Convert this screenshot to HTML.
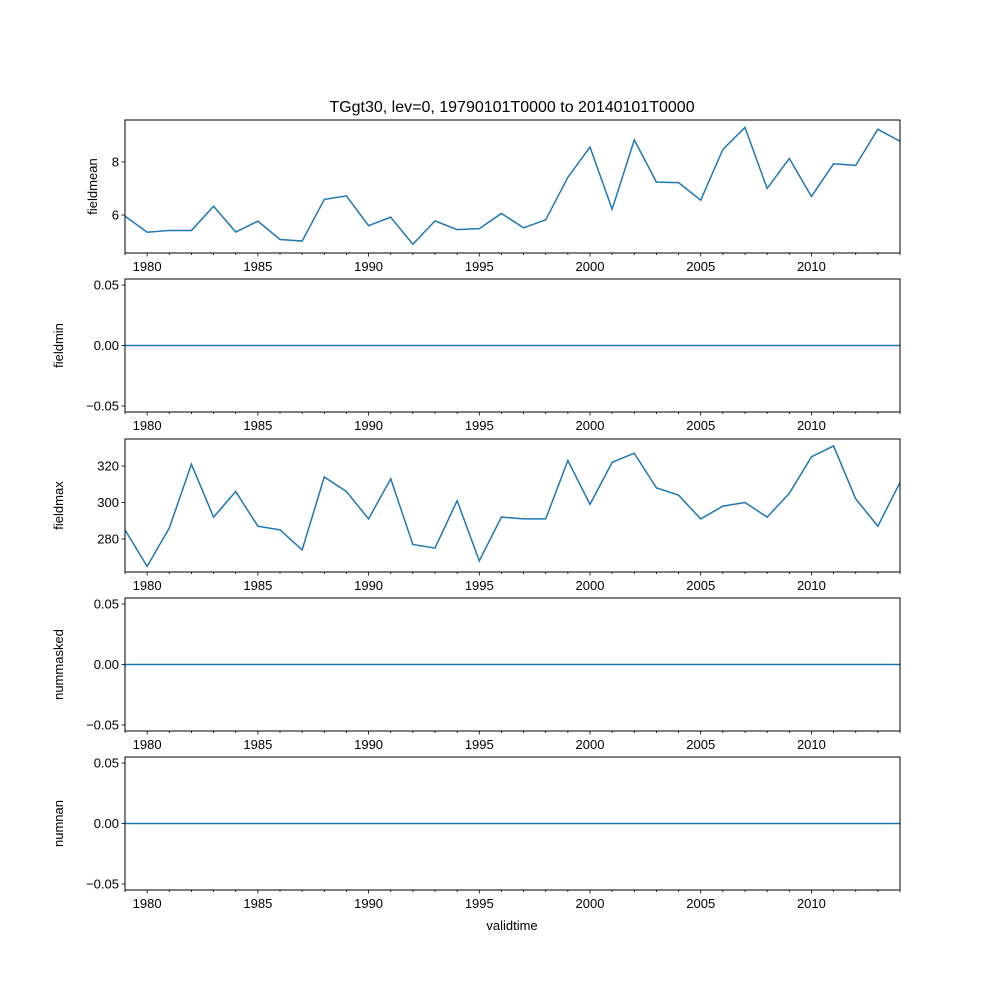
<!DOCTYPE html>
<html><head><meta charset="utf-8"><style>body{margin:0;background:#fff}svg{display:block}text{font-family:"Liberation Sans",sans-serif;font-size:13px;fill:#000}</style></head>
<body>
<svg id="chart" width="1000" height="1000"></svg>
<script>
const years=[];for(let y=1979;y<=2014;y++)years.push(y);
const fieldmean=[5.96,5.35,5.42,5.42,6.33,5.36,5.77,5.08,5.02,6.59,6.72,5.6,5.92,4.9,5.78,5.45,5.49,6.06,5.52,5.82,7.42,8.56,6.22,8.83,7.24,7.22,6.56,8.47,9.3,7.0,8.13,6.7,7.93,7.87,9.23,8.78];
const fieldmax=[285,265,286,321,292,306,287,285,274,314,306,291,313,277,275,301,268,292,291,291,323,299,322,327,308,304,291,298,300,292,305,325,331,302,287,311];
const zeros=years.map(()=>0);
const xTicks=[1980,1985,1990,1995,2000,2005,2010];
const panels=[
 {name:'fieldmean',vals:fieldmean,top:120,ymin:4.57,ymax:9.58,ticks:[6,8],lbl:[ '6','8']},
 {name:'fieldmin',vals:zeros,top:279,ymin:-0.055,ymax:0.055,ticks:[-0.05,0,0.05],lbl:['−0.05','0.00','0.05']},
 {name:'fieldmax',vals:fieldmax,top:439,ymin:261.9,ymax:334.8,ticks:[280,300,320],lbl:['280','300','320']},
 {name:'nummasked',vals:zeros,top:598,ymin:-0.055,ymax:0.055,ticks:[-0.05,0,0.05],lbl:['−0.05','0.00','0.05']},
 {name:'numnan',vals:zeros,top:757,ymin:-0.055,ymax:0.055,ticks:[-0.05,0,0.05],lbl:['−0.05','0.00','0.05']}
];
const L=125,R=900,H=133,NS='http://www.w3.org/2000/svg';
const svg=document.getElementById('chart');
function mk(t,a,p){const e=document.createElementNS(NS,t);for(const k in a)e.setAttribute(k,a[k]);(p||svg).appendChild(e);return e;}
const xs=v=>L+(v-1979)/(2014-1979)*(R-L);
const title=mk('text',{x:512,y:112,'text-anchor':'middle',style:'font-size:16px'});title.textContent='TGgt30, lev=0, 19790101T0000 to 20140101T0000';


panels.forEach(p=>{
 const g=mk('g',{});
 
 
 const B=p.top+H;
 const ys=v=>B-(v-p.ymin)/(p.ymax-p.ymin)*H;
 const d=p.vals.map((v,i)=>(i?'L':'M')+xs(years[i]).toFixed(2)+','+ys(v).toFixed(2)).join('');
 const line=mk('path',{d:d,fill:'none',stroke:'#1f77b4','stroke-width':1.5},g);
 
 
 mk('rect',{x:L,y:p.top,width:R-L,height:H,fill:'none',stroke:'#000','stroke-width':1},g);
 years.forEach(y=>{const x=xs(y);const maj=xTicks.includes(y);mk('line',{x1:x,x2:x,y1:B,y2:B+(maj?3.5:2),stroke:'#000','stroke-width':0.8},g);
  if(maj){const t=mk('text',{x:x,y:B+18,'text-anchor':'middle'},g);t.textContent=y;}});
 p.ticks.forEach((v,i)=>{const y=ys(v);mk('line',{x1:L-3.5,x2:L,y1:y,y2:y,stroke:'#000','stroke-width':0.8},g);
  const t=mk('text',{x:L-6,y:y+4.5,'text-anchor':'end'},g);t.textContent=p.lbl[i];});
 const yl=mk('text',{x:0,y:0,'text-anchor':'middle',transform:`translate(${p.ticks.length==2?97:63},${p.top+H/2}) rotate(-90)`},g);
 yl.textContent=p.name;
 
 
});
const xl=mk('text',{x:512,y:930,'text-anchor':'middle'});xl.textContent='validtime';


</script>
</body></html>
